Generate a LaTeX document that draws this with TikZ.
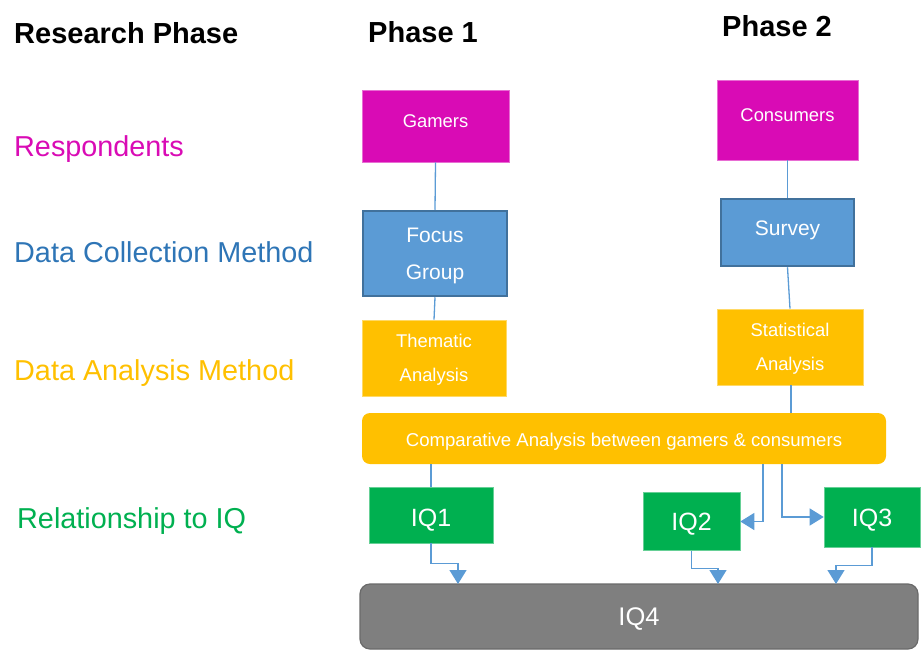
\documentclass[tikz,border=0pt]{standalone}
\usepackage{fontspec}
\setmainfont{Liberation Sans}
\usetikzlibrary{arrows.meta}
\definecolor{mag}{HTML}{D90BB5}
\definecolor{bluefill}{HTML}{5B9BD5}
\definecolor{blueedge}{HTML}{41719C}
\definecolor{bluetext}{HTML}{2E75B6}
\definecolor{gold}{HTML}{FFC000}
\definecolor{grn}{HTML}{00B050}
\definecolor{gry}{HTML}{7F7F7F}
\definecolor{gryedge}{HTML}{6A6A6A}
\newcommand{\fs}[1]{\fontsize{#1}{#1}\selectfont}
\tikzset{
  box/.style={rectangle, inner sep=0pt, text=white, align=center},
  respbox/.style={box, fill=mag, draw=mag!60!white, line width=0.6pt},
  methbox/.style={box, fill=bluefill, draw=blueedge, line width=2.5pt},
  anbox/.style={box, fill=gold, draw=gold!60!white, line width=0.6pt},
  iqbox/.style={box, fill=grn, draw=grn!60!white, line width=0.6pt, font=\fs{25}, text depth=0pt, text height=18.2pt},
  rowlabel/.style={anchor=base west, inner sep=0pt, font=\fs{28.8}},
  head/.style={anchor=base west, inner sep=0pt, font=\bfseries\fs{29}},
  link/.style={draw=bluefill, line width=1.3pt},
  arr/.style={link, -{Triangle[width=17pt,length=14pt]}},
}
\begin{document}
\begin{tikzpicture}[x=1pt,y=-1pt]
\useasboundingbox (0,0) rectangle (921,651);

% column headings
\node[head] (hrp) at (14,43) {Research Phase};
\node[head] (hp1) at (368,42) {Phase 1};
\node[head] (hp2) at (722,36) {Phase 2};

% row labels
\node[rowlabel, text=mag] (lresp) at (14,156) {Respondents};
\node[rowlabel, text=bluetext] (lcoll) at (14,262) {Data Collection Method};
\node[rowlabel, text=gold] (lan) at (14,380) {Data Analysis Method};
\node[rowlabel, text=grn] (liq) at (17,528) {Relationship to IQ};

% phase 1 column
\node[respbox, minimum width=147pt, minimum height=72pt, font=\fs{18.4}] (gam) at (435.5,126) {\raisebox{10pt}{Gamers}};
\node[methbox, minimum width=144pt, minimum height=85pt, font=\fs{21}, text depth=0pt] (focus) at (435,253.5) {Focus\\[16pt]Group};
\node[anbox, minimum width=144pt, minimum height=76pt, font=\fs{18.4}, text depth=0pt] (them) at (434,358) {Thematic\\[16pt]Analysis};

% phase 2 column
\node[respbox, minimum width=141pt, minimum height=80pt, font=\fs{18.4}] (cons) at (787.5,120) {\raisebox{10pt}{Consumers}};
\node[methbox, minimum width=133pt, minimum height=67pt, font=\fs{21}] (surv) at (787.5,232.5) {\raisebox{9pt}{Survey}};
\node[anbox, minimum width=146pt, minimum height=76pt, font=\fs{18.4}, text depth=0pt] (stat) at (790,347) {Statistical\\[16pt]Analysis};

% comparison bar
\node[box, fill=gold, rounded corners=8pt, minimum width=524pt, minimum height=51pt, font=\fs{18.6}, text depth=0pt, text height=16.6pt] (comp) at (624,438.5) {Comparative Analysis between gamers \& consumers};

% research questions
\node[iqbox, minimum width=124pt, minimum height=56pt, text height=23pt] (iq1) at (431,515) {IQ1};
\node[iqbox, minimum width=97pt, minimum height=58pt] (iq2) at (691.5,521.5) {IQ2};
\node[iqbox, minimum width=96pt, minimum height=60pt] (iq3) at (872,517) {IQ3};
\node[box, fill=gry, draw=gryedge, line width=1.2pt, rounded corners=10pt, minimum width=558pt, minimum height=65pt, font=\fs{25.5}, text depth=0pt, text height=18.6pt] (iq4) at (639,616.5) {IQ4};

% connectors inside the columns
\draw[link] (gam.south) -- (focus.north);
\draw[link] (focus.south) -- (them.north);
\draw[link] (cons.south) -- (surv.north);
\draw[link] (surv.south) -- (stat.north);
\draw[link] ([xshift=1pt]stat.south) -- ([xshift=1pt]stat.south |- comp.north);

% comparison bar to the questions
\coordinate (t2) at (763,464);
\coordinate (t3) at (782,464);
\draw[link] (iq1.north) -- (iq1.north |- comp.south);
\draw[arr] (t2) |- (iq2.east);
\draw[arr] (t3) |- (iq3.west);

% questions feed into IQ4
\coordinate (h1) at (458,584);
\coordinate (h2) at (718,584);
\coordinate (h3) at (836,584);
\draw[arr] (iq1.south) -- ++(0,20) -| (h1);
\draw[arr] (iq2.south) -- ++(0,18) -| (h2);
\draw[arr] (iq3.south) -- ++(0,18) -| (h3);
\end{tikzpicture}
\end{document}
